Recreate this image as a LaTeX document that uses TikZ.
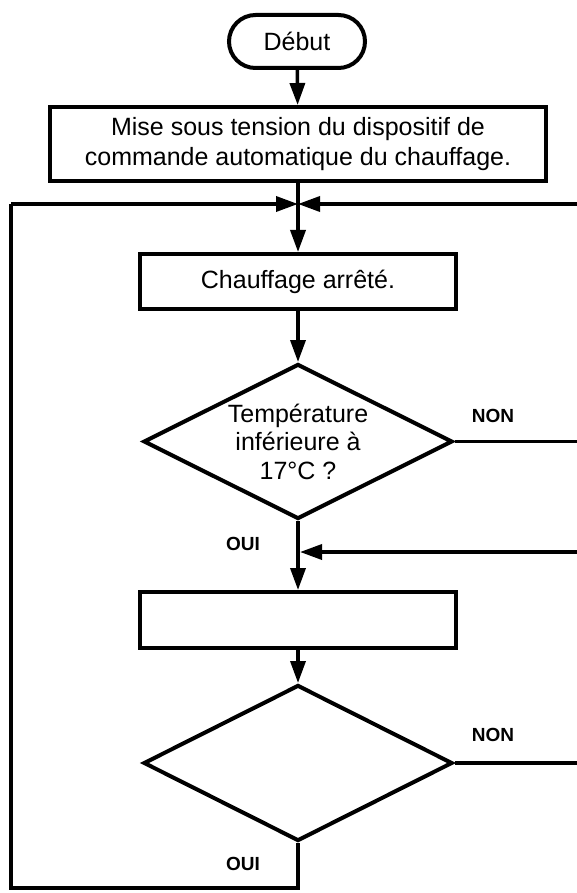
\documentclass[tikz,border=0pt]{standalone}
\usepackage{fontspec}
\setmainfont{Liberation Sans}
\usetikzlibrary{arrows.meta,shapes.geometric,shapes.misc}
\begin{document}
\begin{tikzpicture}[x=1pt,y=-1pt,
  boxline/.style={draw, line width=4pt, inner sep=0pt, align=center,
    font=\fontsize{25}{29.5}\selectfont},
  procbox/.style={boxline, rectangle},
  termbox/.style={boxline, rounded rectangle},
  decbox/.style={boxline, diamond, shape aspect=2, inner sep=-6pt},
  conn/.style={line width=3.5pt, line join=miter},
  arr/.style={conn, -{Triangle[length=22pt,width=15pt]}},
  lab/.style={inner sep=0pt, font=\bfseries\fontsize{19}{21}\selectfont}
]
\useasboundingbox (0,0) rectangle (577,893);

\node[termbox, minimum width=136pt, minimum height=53pt] (debut) at (297,41.5) {Début};
\node[procbox, minimum width=496pt, minimum height=74pt] (mise) at (298,144)
  {Mise sous tension du dispositif de\\commande automatique du chauffage.};
\node[procbox, minimum width=316pt, minimum height=55pt] (chauff) at (298,281.5) {Chauffage arrêté.};
\node[decbox, minimum width=309pt, minimum height=155pt, font=\fontsize{25}{28.5}\selectfont] (d1) at (298,441.5)
  {Température\\inférieure à\\17°C ?};
\node[procbox, minimum width=316pt, minimum height=56pt] (b2) at (298,620) {};
\node[decbox, minimum width=309pt, minimum height=156pt] (d2) at (298,763) {};

\node[lab] (non1) at (493,416) {NON};
\node[lab] (oui1) at (243,544) {OUI};
\node[lab] (non2) at (493,735) {NON};
\node[lab] (oui2) at (243,864) {OUI};

\coordinate (j) at (298,204);
\coordinate (rtop) at (580,204);
\coordinate (r1) at (580,441.5);
\coordinate (r2) at (580,552);
\coordinate (m) at (300,552);
\coordinate (r3) at (580,763);
\coordinate (c1) at (298,888);
\coordinate (c2) at (11,888);
\coordinate (c3) at (11,204);

\draw[arr] (debut) -- (mise);
\draw[arr] (mise) -- (chauff);
\draw[arr] (rtop) -- (j);
\draw[arr] (c3) -- (j);
\draw[arr] (chauff) -- (d1);
\draw[conn] (d1.east) -- (r1);
\draw[arr] (d1.south) -- (b2.north);
\draw[arr] (r2) -- (m);
\draw[arr] (b2) -- (d2);
\draw[conn] (d2.east) -- (r3);
\draw[conn] (d2.south) -- (c1) -- (c2) -- (c3);
\end{tikzpicture}
\end{document}
